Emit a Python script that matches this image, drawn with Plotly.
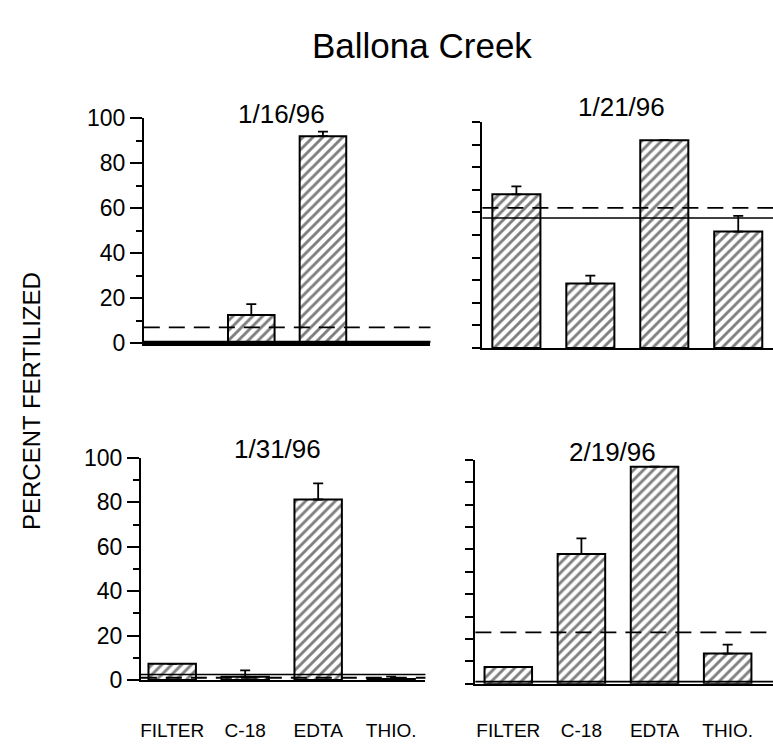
import plotly.graph_objects as go

W, H = 773, 748

categories = ["FILTER", "C-18", "EDTA", "THIO."]
dates = ["1/16/96", "1/21/96", "1/31/96", "2/19/96"]

# percent fertilized (None = no bar)
vals_0116 = [None, 12.5, 92.0, None]
vals_0121 = [68.0, 28.5, 92.0, 51.5]
vals_0131 = [7.3, 1.5, 81.3, 0.5]
vals_0219 = [7.5, 58.0, 97.0, 13.5]

# upper error (None = no error bar)
err_0116 = [None, 4.8, 2.0, None]
err_0121 = [3.5, 3.5, None, 7.0]
err_0131 = [None, 2.8, 7.3, 1.0]
err_0219 = [None, 7.0, None, 4.0]

# reference lines (dashed / solid)
dashed_vals = [7.0, 62.0, 1.0, 23.0]
solid_vals = [0.5, 57.5, 2.5, 1.0]

all_vals = [vals_0116, vals_0121, vals_0131, vals_0219]
all_errs = [err_0116, err_0121, err_0131, err_0219]

# panel pixel boxes: (x0, x1, ytop, ybottom, xrange)
panels = [
    (143, 430, 109, 342, [-0.5, 3.5]),
    (482, 773, 113, 347, [-0.46, 3.47]),
    (140, 425, 461, 691, [-0.43, 3.47]),
    (475, 773, 463, 695, [-0.45, 3.62]),
]

FONT = "Liberation Sans, Arial, sans-serif"

fig = go.Figure()
layout = dict(
    width=W, height=H, margin=dict(l=0, r=0, t=0, b=0),
    paper_bgcolor="white", plot_bgcolor="white", showlegend=False,
    font=dict(family=FONT, color="black"),
    shapes=[], annotations=[],
)

for i, (x0, x1, yt, yb, xr) in enumerate(panels):
    n = "" if i == 0 else str(i + 1)
    xa, ya = "x" + n, "y" + n
    vals = all_vals[i]
    errs = all_errs[i]
    fig.add_trace(go.Bar(
        x=categories, y=vals, xaxis=xa, yaxis=ya, width=0.65,
        marker=dict(color="white", line=dict(color="black", width=2),
                    pattern=dict(shape="/", fgcolor="black", bgcolor="white",
                                 size=7, solidity=0.42)),
        error_y=dict(type="data", symmetric=False, array=errs,
                     arrayminus=[0] * 4, color="black", thickness=1.8, width=5),
    ))
    bottom = i >= 2
    left = i % 2 == 0
    layout["xaxis" + n] = dict(
        domain=[x0 / W, x1 / W], anchor=ya, type="category", range=xr,
        showline=True, linecolor="black", linewidth=2.5 if i == 0 else 2,
        showgrid=False, zeroline=False, ticks="",
        showticklabels=bottom, tickfont=dict(family=FONT, size=19),
        ticklabelstandoff=[0, 0, 32, 28][i], fixedrange=True,
    )
    yax = dict(
        domain=[1 - yb / H, 1 - yt / H], anchor=xa, range=[0, 100],
        showline=True, linecolor="black", linewidth=1.8,
        showgrid=False, zeroline=False,
        ticks="outside", tickcolor="black", tickwidth=1.5,
        fixedrange=True,
    )
    if left:
        yax.update(tickvals=[0, 20, 40, 60, 80, 100], ticklen=12,
                   showticklabels=True, tickfont=dict(size=23),
                   minor=dict(tickvals=[10, 30, 50, 70, 90], ticklen=6,
                              ticks="outside", tickcolor="black", tickwidth=1.5))
    else:
        yax.update(tickvals=list(range(0, 101, 10)), ticklen=8,
                   showticklabels=False)
    layout["yaxis" + n] = yax

    layout["shapes"].append(dict(
        type="line", xref=xa + " domain", yref=ya, x0=0, x1=1,
        y0=dashed_vals[i], y1=dashed_vals[i],
        line=dict(color="black", width=1.8, dash="16px,9px")))
    layout["shapes"].append(dict(
        type="line", xref=xa + " domain", yref=ya, x0=0, x1=1,
        y0=solid_vals[i], y1=solid_vals[i],
        line=dict(color="black", width=1.6 if i else 2.5)))

    layout["annotations"].append(dict(
        text=dates[i], xref=xa + " domain", yref=ya + " domain",
        x=[0.48, 0.48, 0.48, 0.46][i], y=1.0, yanchor="middle", xanchor="center",
        yshift=[4, 15, 9, 8][i], showarrow=False,
        font=dict(size=26, family=FONT)))

layout["annotations"].append(dict(
    text="Ballona Creek", xref="paper", yref="paper", x=422 / W, y=1 - 34 / H,
    xanchor="center", yanchor="middle", showarrow=False,
    font=dict(size=35, family=FONT)))
layout["annotations"].append(dict(
    text="PERCENT FERTILIZED", xref="paper", yref="paper", x=30 / W, y=1 - 402 / H,
    xanchor="center", yanchor="middle", showarrow=False, textangle=-90,
    font=dict(size=24, family=FONT)))

fig.update_layout(**layout)
fig.write_html("out.html")
